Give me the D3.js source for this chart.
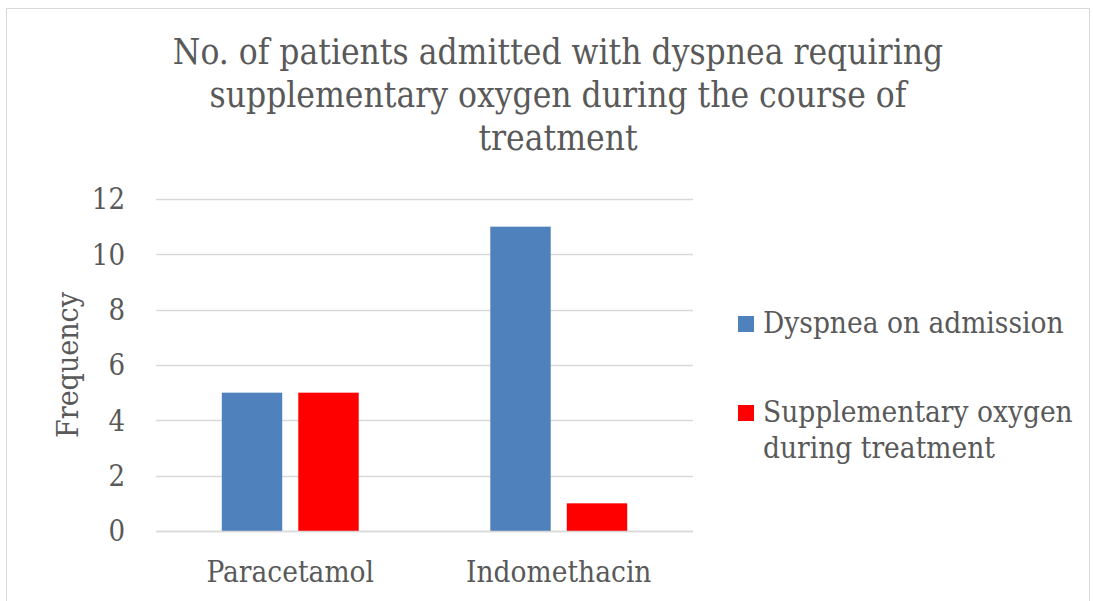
<!DOCTYPE html>
<html><head><meta charset="utf-8">
<script src="https://cdn.jsdelivr.net/npm/d3@7"></script>
<style>
body{margin:0;background:#fff;}
text{font-family:"DejaVu Serif Condensed","DejaVu Serif",serif;font-stretch:condensed;fill:#595959;}
</style></head>
<body><svg id="c" width="1093" height="601"></svg>
<script>
const categories = ["Paracetamol", "Indomethacin"];
const seriesNames = ["Dyspnea on admission", "Supplementary oxygen during treatment"];
const dyspneaOnAdmission = [5, 11];
const supplementaryOxygen = [5, 1];
const yTicks = [0, 2, 4, 6, 8, 10, 12];
const titleLines = ["No. of patients admitted with dyspnea requiring", "supplementary oxygen during the course of", "treatment"];
const legendLines = [["Dyspnea on admission"], ["Supplementary oxygen", "during treatment"]];
const colors = ["#4f81bd", "#ff0000"];

const FONT = '"DejaVu Serif Condensed","DejaVu Serif",serif';
const svg = d3.select("#c");
svg.append("rect").attr("x",0).attr("y",0).attr("width",1093).attr("height",601).attr("fill","#fff");
svg.append("rect").attr("x",6.5).attr("y",8.5).attr("width",1083).attr("height",620)
  .attr("fill","none").attr("stroke","#d9d9d9").attr("stroke-width",1);

const x = d3.scaleBand().domain(categories).range([156, 693]);
const y = d3.scaleLinear().domain([0, 12]).range([531, 199]);
const inner = d3.scaleBand().domain(seriesNames).range([0, x.bandwidth()]).paddingInner(0.21).paddingOuter(0.86);

// gridlines
svg.append("g").selectAll("line").data(yTicks).join("line")
  .attr("x1",156).attr("x2",693).attr("y1",d=>Math.round(y(d))+0.5).attr("y2",d=>Math.round(y(d))+0.5)
  .attr("stroke","#d9d9d9").attr("stroke-width",1.5);

// y axis labels
const yAxis = d3.axisLeft(y).tickValues(yTicks).tickSize(0).tickPadding(0);
const ya = svg.append("g").attr("transform","translate(125,0)").call(yAxis);
ya.select(".domain").remove();
ya.selectAll("text").attr("font-size",29).style("fill","#595959")
  .style("font-family",FONT).attr("dy","0.34em");

// bars
const data = categories.map((c,i)=>({cat:c, vals:[dyspneaOnAdmission[i], supplementaryOxygen[i]]}));
const g = svg.append("g").selectAll("g").data(data).join("g").attr("transform",d=>`translate(${x(d.cat)},0)`);
g.selectAll("rect").data(d=>d.vals.map((v,j)=>({v, s:seriesNames[j], j}))).join("rect")
  .attr("x",d=>inner(d.s)).attr("width",inner.bandwidth())
  .attr("y",d=>y(d.v)).attr("height",d=>y(0)-y(d.v)).attr("fill",d=>colors[d.j]);

// baseline
svg.append("line").attr("x1",156).attr("x2",693).attr("y1",531.5).attr("y2",531.5).attr("stroke","#d9d9d9").attr("stroke-width",1.5);

// x axis labels
const xAxis = d3.axisBottom(x).tickSize(0).tickPadding(0);
const xa = svg.append("g").attr("transform","translate(0,582)").call(xAxis);
xa.select(".domain").remove();
xa.selectAll("text").attr("font-size",29.5).attr("dy",0).attr("y",0).style("fill","#595959")
  .style("font-family",FONT);

// y title
svg.append("text").attr("transform","translate(78,365) rotate(-90)").attr("text-anchor","middle")
  .attr("font-size",30).text("Frequency");

// title
svg.append("g").selectAll("text").data(titleLines).join("text")
  .attr("x",558).attr("y",(d,i)=>64+i*43).attr("text-anchor","middle").attr("font-size",35).text(d=>d);

// legend
const lg = svg.append("g").selectAll("g").data(legendLines).join("g")
  .attr("transform",(d,i)=>`translate(738,${i===0?316:405})`);
lg.append("rect").attr("width",16).attr("height",16).attr("fill",(d,i)=>colors[i]);
lg.selectAll("text").data(d=>d).join("text").attr("x",25).attr("y",(d,i)=>17+i*36)
  .attr("font-size",29.5).text(d=>d);
</script></body></html>
